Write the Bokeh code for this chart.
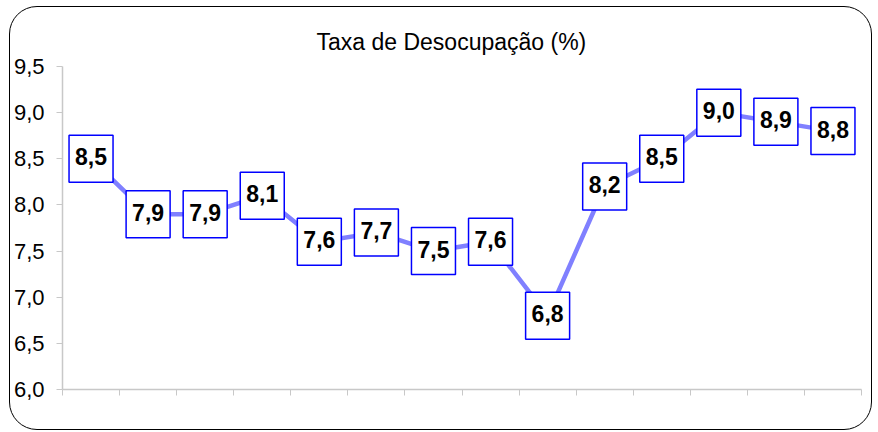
import numpy as np
from bokeh.plotting import figure
from bokeh.models import ColumnDataSource, FixedTicker, Range1d, Title, CustomJSTickFormatter
from bokeh.core.properties import value
from bokeh.embed import file_html
from bokeh.resources import INLINE

# Data
periods = ["abr/08", "mai/08", "jun/08", "jul/08", "ago/08", "set/08", "out/08",
           "nov/08", "dez/08", "jan/09", "fev/09", "mar/09", "abr/09", "mai/09"]
taxa = [8.5, 7.9, 7.9, 8.1, 7.6, 7.7, 7.5, 7.6, 6.8, 8.2, 8.5, 9.0, 8.9, 8.8]
y_ticks = [6.0, 6.5, 7.0, 7.5, 8.0, 8.5, 9.0, 9.5]
title_text = "Taxa de Desocupação (%)"

n = len(periods)
xs = np.arange(n) + 0.5
labels = [f"{v:.1f}".replace(".", ",") for v in taxa]
src = ColumnDataSource(dict(x=xs, y=taxa, lab=labels, period=periods))

FONT = "Liberation Sans"

p = figure(width=863, height=424, output_backend="svg", toolbar_location=None,
           x_range=Range1d(0, n), y_range=Range1d(6.0, 9.5),
           min_border_left=51, min_border_right=12, min_border_top=59,
           min_border_bottom=42)
p.title = None
p.add_layout(Title(text=title_text, text_font=FONT, text_font_size="23px",
                   text_font_style="normal", text_color="#000000",
                   align="left", offset=254, standoff=24), "above")

p.styles = {"margin-left": "9px", "margin-top": "6px",
            "border": "1.5px solid #000000", "border-radius": "28px",
            "box-sizing": "border-box"}

p.outline_line_color = None
p.xgrid.grid_line_color = None
p.ygrid.grid_line_color = None
p.background_fill_color = None
p.border_fill_color = None

# axes
p.yaxis.ticker = FixedTicker(ticks=y_ticks)
p.yaxis.formatter = CustomJSTickFormatter(
    code="return tick.toFixed(1).replace('.', ',');")
p.yaxis.major_label_text_font = FONT
p.yaxis.major_label_text_font_size = "22px"
p.yaxis.major_label_text_color = "#000000"
p.yaxis.axis_line_color = "#c8c8c8"
p.yaxis.axis_line_width = 1.5
p.yaxis.major_tick_line_color = "#c8c8c8"
p.yaxis.major_tick_in = 0
p.yaxis.major_tick_out = 6
p.yaxis.minor_tick_line_color = None
p.yaxis.major_label_standoff = 12

p.xaxis.ticker = FixedTicker(ticks=list(range(n + 1)))
p.xaxis.formatter = CustomJSTickFormatter(code="return '';")
p.xaxis.axis_line_color = "#c8c8c8"
p.xaxis.axis_line_width = 1.5
p.xaxis.major_tick_line_color = "#c8c8c8"
p.xaxis.major_tick_in = 0
p.xaxis.major_tick_out = 6
p.xaxis.minor_tick_line_color = None

p.line("x", "y", source=src, line_color="#8080ff", line_width=4.5)

p.rect("x", "y", width=44, height=47, width_units="screen", height_units="screen",
       source=src, fill_color="white", line_color="#0000ff", line_width=1.5)
p.text("x", "y", text="lab", source=src, text_font=value(FONT),
       text_font_size="23px", text_font_style="bold", text_color="#000000",
       text_align="center", text_baseline="middle", y_offset=-2)

open("out.html", "w").write(file_html(p, INLINE))
